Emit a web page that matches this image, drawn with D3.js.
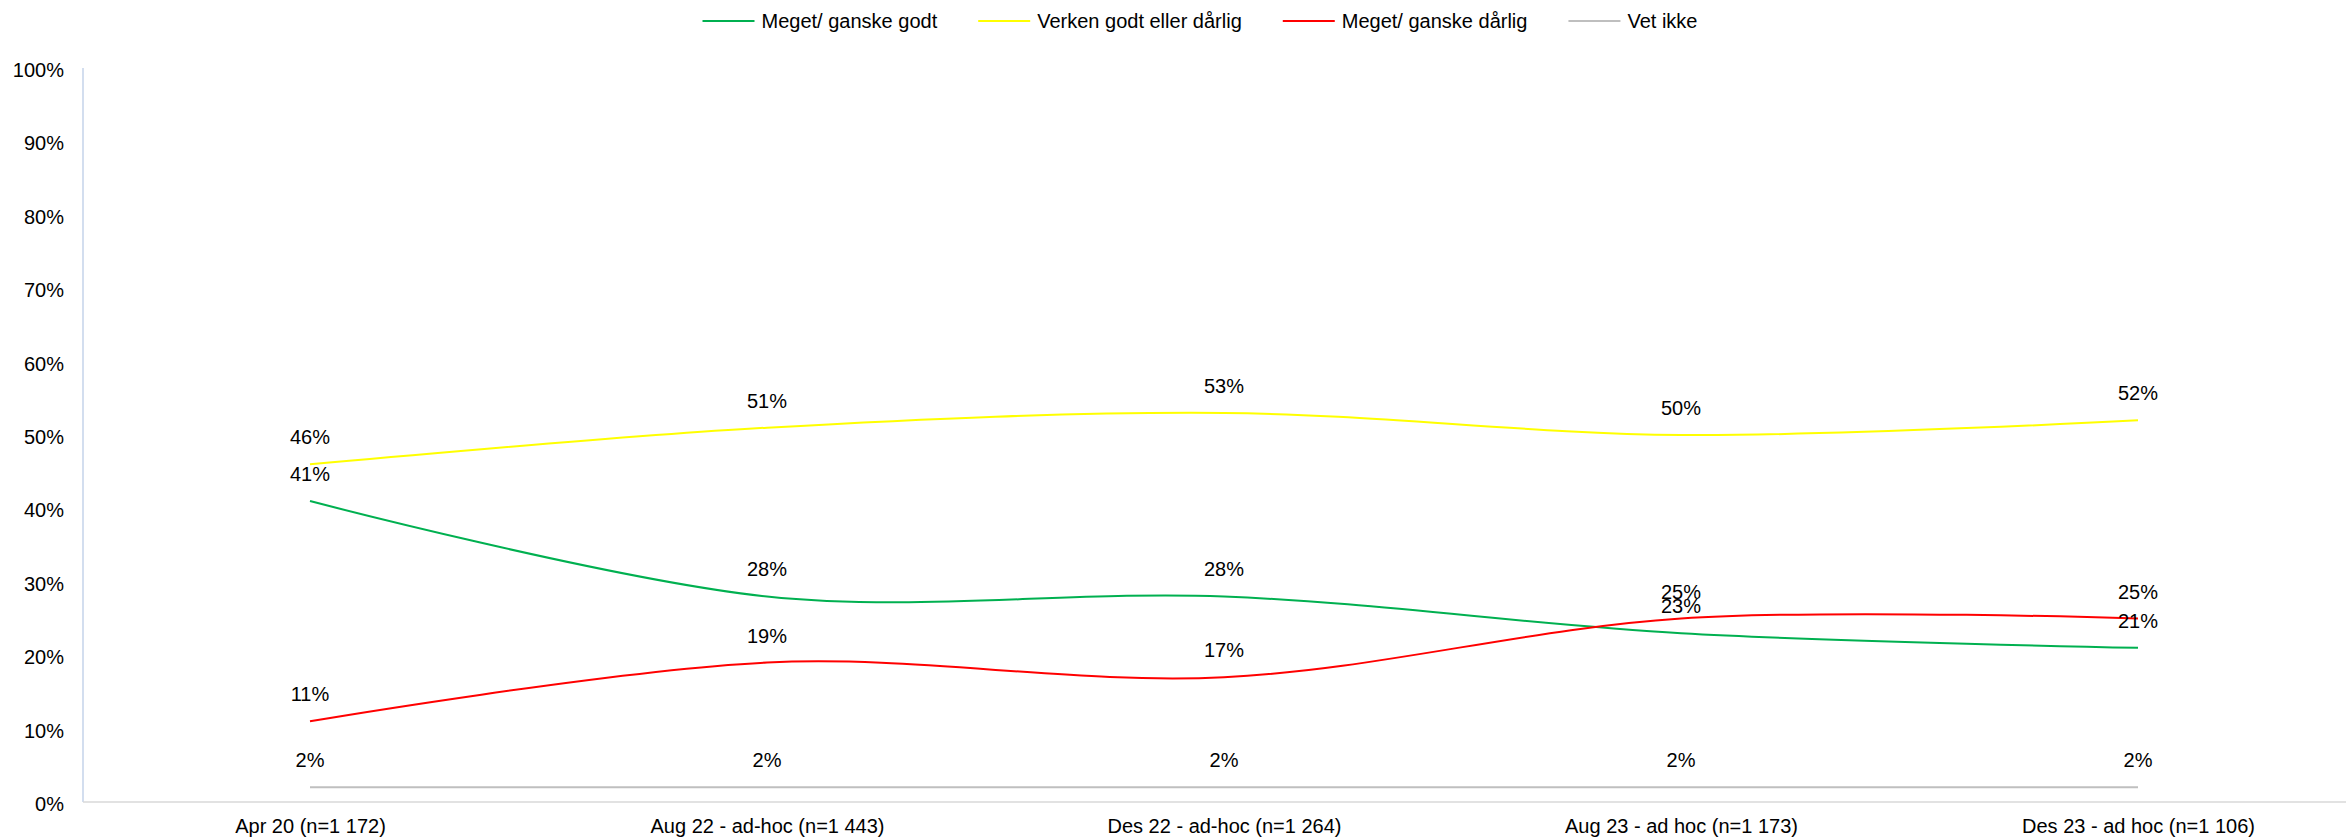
<!DOCTYPE html>
<html>
<head>
<meta charset="utf-8">
<script src="https://cdn.jsdelivr.net/npm/d3@7"></script>
<style>
    html, body { margin: 0; padding: 0; background: #fff; }
    svg text { font-family: "Liberation Sans", Arial, sans-serif; fill: #000; }
</style>
</head>
<body>
<svg id="chart" width="2349" height="840"></svg>
<script>
"use strict";

// Data
const categories = ["Apr 20 (n=1 172)", "Aug 22 - ad-hoc (n=1 443)", "Des 22 - ad-hoc (n=1 264)", "Aug 23 - ad hoc (n=1 173)", "Des 23 - ad hoc (n=1 106)"];
const seriesNames = ["Meget/ ganske godt", "Verken godt eller dårlig", "Meget/ ganske dårlig", "Vet ikke"];
const godt = [41, 28, 28, 23, 21];
const verken = [46, 51, 53, 50, 52];
const darlig = [11, 19, 17, 25, 25];
const vetIkke = [2, 2, 2, 2, 2];
const yTicks = [0, 10, 20, 30, 40, 50, 60, 70, 80, 90, 100];
const colors = ["#00B050", "#FFFF00", "#FF0000", "#BFBFBF"];

const series = [godt, verken, darlig, vetIkke].map((values, i) => ({
    name: seriesNames[i], values: values, color: colors[i]
}));

const fontSize = 20;

const svg = d3.select("#chart");

// Scales
const plotLeft = 83, plotRight = 2346, plotTop = 68, plotBottom = 802;
const xScale = d3.scalePoint().domain(categories).range([310, 2138]);
const yScale = d3.scaleLinear().domain([0, 100]).range([plotBottom, plotTop]);

// Y axis
const yAxis = d3.axisLeft(yScale)
    .tickValues(yTicks)
    .tickFormat(d => d + "%")
    .tickSize(0)
    .tickPadding(19);

const yAxisGroup = svg.append("g")
    .attr("class", "y-axis")
    .attr("transform", `translate(${plotLeft}, 2)`)
    .call(yAxis);
yAxisGroup.select(".domain").remove();
yAxisGroup.selectAll("text")
    .style("font-size", fontSize + "px")
    .style("font-family", "Liberation Sans, Arial, sans-serif")
    .attr("fill", "#000");

// axis lines
svg.append("line")
    .attr("x1", plotLeft).attr("x2", plotLeft)
    .attr("y1", plotTop).attr("y2", plotBottom)
    .attr("stroke", "#C5D3EA").attr("stroke-width", 1.5);

// X axis
const xAxis = d3.axisBottom(xScale).tickSize(0).tickPadding(17);
const xAxisGroup = svg.append("g")
    .attr("class", "x-axis")
    .attr("transform", `translate(0, ${plotBottom})`)
    .call(xAxis);
xAxisGroup.select(".domain").remove();
xAxisGroup.selectAll("text")
    .style("font-size", fontSize + "px")
    .style("font-family", "Liberation Sans, Arial, sans-serif")
    .attr("fill", "#000");

svg.append("line")
    .attr("x1", plotLeft).attr("x2", plotRight)
    .attr("y1", plotBottom).attr("y2", plotBottom)
    .attr("stroke", "#D9D9D9").attr("stroke-width", 1.5);

// Lines (smoothed like Excel)
const line = d3.line()
    .x((d, i) => xScale(categories[i]))
    .y(d => yScale(d))
    .curve(d3.curveCardinal.tension(0));

series.forEach(s => {
    svg.append("path")
        .datum(s.values)
        .attr("fill", "none")
        .attr("stroke", s.color)
        .attr("stroke-width", 2)
        .attr("d", line);
});

// Data labels, above each point
series.forEach(s => {
    svg.append("g")
        .selectAll("text")
        .data(s.values)
        .join("text")
        .attr("x", (d, i) => xScale(categories[i]))
        .attr("y", d => yScale(d) - 20)
        .attr("text-anchor", "middle")
        .style("font-size", fontSize + "px")
        .text(d => d + "%");
});

// Legend
const legend = svg.append("g").attr("class", "legend");
const legendY = 21;
const lineLen = 52, lineGap = 7, itemGap = 41;
let cursor = 0;
series.forEach(s => {
    const g = legend.append("g");
    g.append("line")
        .attr("x1", 0).attr("x2", lineLen)
        .attr("y1", legendY).attr("y2", legendY)
        .attr("stroke", s.color).attr("stroke-width", 2);
    const t = g.append("text")
        .attr("x", lineLen + lineGap)
        .attr("y", legendY + 7)
        .style("font-size", fontSize + "px")
        .text(s.name);
    const w = lineLen + lineGap + t.node().getComputedTextLength();
    g.attr("transform", `translate(${cursor}, 0)`);
    cursor += w + itemGap;
});
const legendWidth = cursor - itemGap;
legend.attr("transform", `translate(${1200 - legendWidth / 2}, 0)`);
</script>
</body>
</html>
